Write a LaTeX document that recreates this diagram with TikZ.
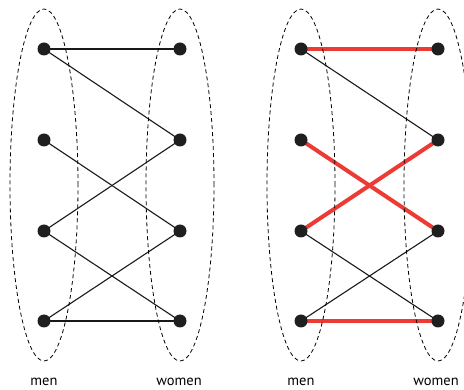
\documentclass[tikz,border=0pt]{standalone}
\usepackage{fontspec}
\setsansfont{PT Sans}
\usepackage{xcolor}
\usetikzlibrary{positioning,backgrounds}
\definecolor{matchred}{RGB}{236,58,52}
\tikzset{
  vtx/.style={circle,fill=black!88,inner sep=0pt,minimum size=13pt},
  edge/.style={line width=1.1pt,black!90},
  matched/.style={line width=4pt,matchred},
  side/.style={line width=0.8pt,dash pattern=on 4pt off 3pt},
  lbl/.style={font=\sffamily\fontsize{14.5}{16}\selectfont}
}
\begin{document}
\begin{tikzpicture}[x=1pt,y=-1pt]
\useasboundingbox (0,0) rectangle (464,390);
% Left graph
\draw[side] (44,185) ellipse [x radius=34pt,y radius=176pt];
\draw[side] (180,185) ellipse [x radius=34pt,y radius=176pt];
\node[vtx] (a1) at (44,49) {};
\node[vtx] (a2) at (44,140) {};
\node[vtx] (a3) at (44,231) {};
\node[vtx] (a4) at (44,321) {};
\node[vtx] (b1) at (180,49) {};
\node[vtx] (b2) at (180,140) {};
\node[vtx] (b3) at (180,231) {};
\node[vtx] (b4) at (180,321) {};
\begin{scope}[on background layer]
\draw[edge] (a1.center) -- (b1.center);
\draw[edge] (a1.center) -- (b2.center);
\draw[edge] (a2.center) -- (b3.center);
\draw[edge] (a3.center) -- (b2.center);
\draw[edge] (a3.center) -- (b4.center);
\draw[edge] (a4.center) -- (b3.center);
\draw[edge] (a4.center) -- (b4.center);
\end{scope}
\node[lbl] (menL) at (44,382) {men};
\node[lbl] (womenL) at (179,382) {women};
% Right graph with matching
\draw[side] (301,185) ellipse [x radius=34pt,y radius=176pt];
\draw[side] (438,185) ellipse [x radius=34pt,y radius=176pt];
\node[vtx] (c1) at (301,49) {};
\node[vtx] (c2) at (301,140) {};
\node[vtx] (c3) at (301,231) {};
\node[vtx] (c4) at (301,321) {};
\node[vtx] (d1) at (438,49) {};
\node[vtx] (d2) at (438,140) {};
\node[vtx] (d3) at (438,231) {};
\node[vtx] (d4) at (438,321) {};
\begin{scope}[on background layer]
\draw[edge] (c1.center) -- (d2.center);
\draw[edge] (c3.center) -- (d4.center);
\draw[edge] (c4.center) -- (d3.center);
\draw[matched] (c1.center) -- (d1.center);
\draw[matched] (c2.center) -- (d3.center);
\draw[matched] (c3.center) -- (d2.center);
\draw[matched] (c4.center) -- (d4.center);
\end{scope}
\node[lbl] (menR) at (301,382) {men};
\node[lbl] (womenR) at (436,382) {women};
\end{tikzpicture}
\end{document}
